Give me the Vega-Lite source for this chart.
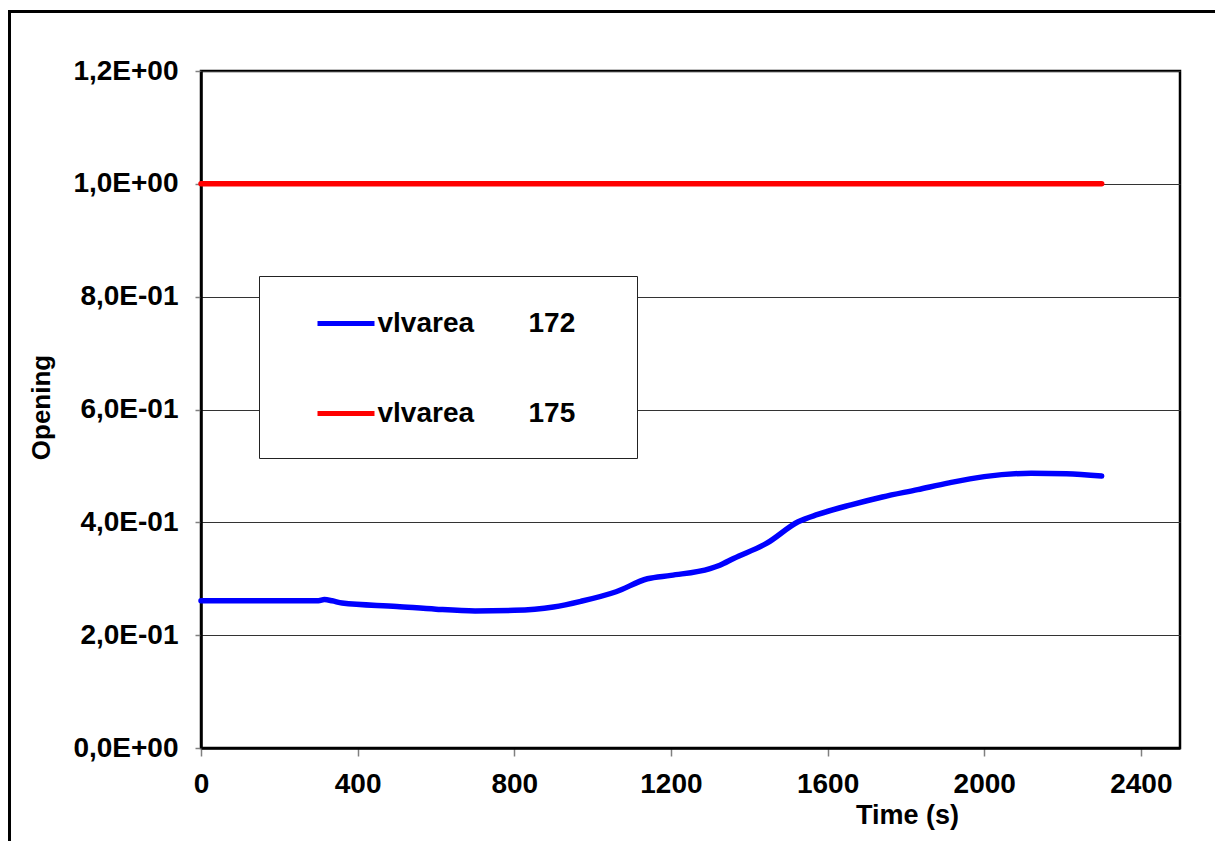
{
  "$schema": "https://vega.github.io/schema/vega-lite/v6.json",
  "width": 979,
  "height": 677,
  "autosize": {"type": "none"},
  "padding": {"left": 201, "top": 71, "right": 35, "bottom": 93},
  "background": "white",
  "config": {
    "view": {"stroke": "black", "strokeWidth": 2.5},
    "font": "Liberation Sans"
  },
  "datasets": {
    "frame": [{"x": -489, "x2": 2700, "y": 1.3055, "y2": -0.3}],
    "series": [
      {"t": 0, "v": 0.261, "s": "vlvarea 172"},
      {"t": 300, "v": 0.261, "s": "vlvarea 172"},
      {"t": 315, "v": 0.263, "s": "vlvarea 172"},
      {"t": 335, "v": 0.261, "s": "vlvarea 172"},
      {"t": 360, "v": 0.257, "s": "vlvarea 172"},
      {"t": 500, "v": 0.251, "s": "vlvarea 172"},
      {"t": 600, "v": 0.246, "s": "vlvarea 172"},
      {"t": 700, "v": 0.243, "s": "vlvarea 172"},
      {"t": 800, "v": 0.244, "s": "vlvarea 172"},
      {"t": 900, "v": 0.250, "s": "vlvarea 172"},
      {"t": 970, "v": 0.260, "s": "vlvarea 172"},
      {"t": 1060, "v": 0.277, "s": "vlvarea 172"},
      {"t": 1140, "v": 0.300, "s": "vlvarea 172"},
      {"t": 1200, "v": 0.306, "s": "vlvarea 172"},
      {"t": 1300, "v": 0.318, "s": "vlvarea 172"},
      {"t": 1325, "v": 0.324, "s": "vlvarea 172"},
      {"t": 1360, "v": 0.336, "s": "vlvarea 172"},
      {"t": 1445, "v": 0.363, "s": "vlvarea 172"},
      {"t": 1525, "v": 0.401, "s": "vlvarea 172"},
      {"t": 1575, "v": 0.414, "s": "vlvarea 172"},
      {"t": 1660, "v": 0.431, "s": "vlvarea 172"},
      {"t": 1740, "v": 0.445, "s": "vlvarea 172"},
      {"t": 1830, "v": 0.458, "s": "vlvarea 172"},
      {"t": 1910, "v": 0.470, "s": "vlvarea 172"},
      {"t": 2000, "v": 0.481, "s": "vlvarea 172"},
      {"t": 2120, "v": 0.487, "s": "vlvarea 172"},
      {"t": 2210, "v": 0.486, "s": "vlvarea 172"},
      {"t": 2300, "v": 0.482, "s": "vlvarea 172"},
      {"t": 0, "v": 1.0, "s": "vlvarea 175"},
      {"t": 2300, "v": 1.0, "s": "vlvarea 175"}
    ]
  },
  "layer": [
    {
      "data": {"name": "frame"},
      "mark": {"type": "rect", "fill": "transparent", "stroke": "black", "strokeWidth": 3, "clip": false},
      "encoding": {
        "x": {"field": "x", "type": "quantitative", "scale": {"domain": [0, 2500], "nice": false, "zero": false}},
        "x2": {"field": "x2"},
        "y": {"field": "y", "type": "quantitative", "scale": {"domain": [0, 1.2], "nice": false, "zero": false}},
        "y2": {"field": "y2"}
      }
    },
    {
      "data": {"name": "series"},
      "mark": {"type": "line", "strokeWidth": 5.5, "strokeCap": "round", "strokeJoin": "round", "interpolate": "monotone"},
      "encoding": {
        "x": {
          "field": "t", "type": "quantitative",
          "scale": {"domain": [0, 2500], "nice": false, "zero": false},
          "axis": {
            "values": [0, 400, 800, 1200, 1600, 2000, 2400],
            "format": "d",
            "grid": false,
            "domainColor": "black", "domainWidth": 2.5,
            "tickColor": "#808080", "tickWidth": 1.5, "tickSize": 8,
            "labelFont": "Liberation Sans", "labelFontWeight": "bold", "labelFontSize": 28, "labelColor": "black",
            "labelPadding": 14, "labelFlush": false, "labelOverlap": false,
            "title": "Time (s)",
            "titleFont": "Liberation Sans", "titleFontWeight": "bold", "titleFontSize": 27, "titleColor": "black",
            "titleX": 706, "titleY": 75, "titleBaseline": "alphabetic", "titleAlign": "center"
          }
        },
        "y": {
          "field": "v", "type": "quantitative",
          "scale": {"domain": [0, 1.2], "nice": false, "zero": false},
          "axis": {
            "values": [0, 0.2, 0.4, 0.6, 0.8, 1.0, 1.2],
            "labelExpr": "datum.value == 0 ? '0,0E+00' : (datum.value >= 1 ? replace(format(datum.value, '.1f'), '.', ',') + 'E+00' : replace(format(datum.value * 10, '.1f'), '.', ',') + 'E-01')",
            "grid": true, "gridColor": "#333333", "gridWidth": 1,
            "domainColor": "black", "domainWidth": 2.5,
            "tickColor": "#808080", "tickWidth": 1.5, "tickSize": 6,
            "labelFont": "Liberation Sans", "labelFontWeight": "bold", "labelFontSize": 28, "labelColor": "black",
            "labelPadding": 17, "labelFlush": false, "labelOverlap": false,
            "title": "Opening",
            "titleFont": "Liberation Sans", "titleFontWeight": "bold", "titleFontSize": 26, "titleColor": "black",
            "titleX": -152, "titleY": 336, "titleBaseline": "alphabetic", "titleAlign": "center", "titleAngle": -90
          }
        },
        "color": {
          "field": "s", "type": "nominal",
          "scale": {"domain": ["vlvarea 172", "vlvarea 175"], "range": ["#0000FF", "#FF0000"]},
          "legend": {
            "orient": "none", "legendX": 58, "legendY": 205,
            "title": "\u00a0", "titleOrient": "bottom", "titleFontSize": 10, "titlePadding": 4,
            "padding": 16.5,
            "symbolType": "stroke", "symbolSize": 3249, "symbolStrokeWidth": 5,
            "symbolOffset": 39.5, "labelOffset": 0.5, "rowPadding": 45,
            "strokeColor": "#222222", "fillColor": "white",
            "labelFont": "Liberation Sans", "labelFontWeight": "bold", "labelFontSize": 28, "labelColor": "black",
            "labelLimit": 0,
            "labelExpr": "replace(datum.label, ' ', '\u00a0\u00a0\u00a0\u00a0\u00a0\u00a0\u00a0') + '\u00a0\u00a0\u00a0\u00a0\u00a0\u2009\u200b'"
          }
        }
      }
    }
  ]
}
